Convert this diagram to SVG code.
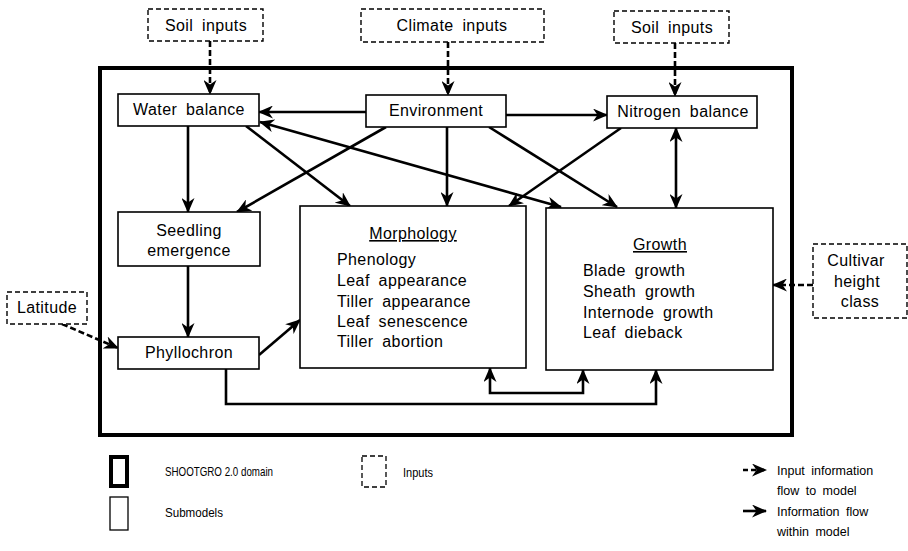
<svg xmlns="http://www.w3.org/2000/svg" width="908" height="551" viewBox="0 0 908 551">
<defs>
<style>
text{font-family:"Liberation Sans",Arial,sans-serif;fill:#000}
.t{font-size:16px;letter-spacing:0.4px;word-spacing:4px}
.c{text-anchor:middle}
.box{fill:#fff;stroke:#000;stroke-width:1.6}
.dbox{fill:#fff;stroke:#000;stroke-width:1.4;stroke-dasharray:5 3}
.ln{fill:none;stroke:#000;stroke-width:2.6}
.dl{fill:none;stroke:#000;stroke-width:2.6;stroke-dasharray:6 3}
.lg{font-size:12.5px;word-spacing:3px}
</style>
<marker id="ah" markerUnits="userSpaceOnUse" markerWidth="15" markerHeight="13" viewBox="0 0 15 13" refX="14" refY="6.5" orient="auto-start-reverse">
<path d="M0,0 L15,6.5 L0,13 L4.5,6.5 z" fill="#000"/>
</marker>
</defs>
<rect width="908" height="551" fill="#fff"/>

<g id="domain"><rect x="100" y="68" width="692" height="367" fill="none" stroke="#000" stroke-width="4"/></g>

<g id="connectors">
<line class="dl" x1="210" y1="41" x2="210" y2="94" marker-end="url(#ah)"/>
<line class="dl" x1="448" y1="42" x2="448" y2="95" marker-end="url(#ah)"/>
<line class="dl" x1="675" y1="43" x2="675" y2="96" marker-end="url(#ah)"/>
<line class="ln" x1="366" y1="112" x2="259" y2="112" marker-end="url(#ah)"/>
<line class="ln" x1="506" y1="115" x2="607" y2="115" marker-end="url(#ah)"/>
<line class="ln" x1="188" y1="126" x2="188" y2="212" marker-end="url(#ah)"/>
<line class="ln" x1="386" y1="127" x2="237" y2="212" marker-end="url(#ah)"/>
<line class="ln" x1="246" y1="126" x2="350" y2="206" marker-end="url(#ah)"/>
<line class="ln" x1="447" y1="127" x2="447" y2="206" marker-end="url(#ah)"/>
<line class="ln" x1="489" y1="127" x2="617" y2="207" marker-end="url(#ah)"/>
<line class="ln" x1="621" y1="128" x2="509" y2="206" marker-end="url(#ah)"/>
<line class="ln" x1="676" y1="128" x2="676" y2="208" marker-start="url(#ah)" marker-end="url(#ah)"/>
<line class="ln" x1="260" y1="122" x2="561" y2="207" marker-start="url(#ah)" marker-end="url(#ah)"/>
<line class="ln" x1="188" y1="266" x2="188" y2="337" marker-end="url(#ah)"/>
<line class="ln" x1="259" y1="355" x2="300" y2="320" marker-end="url(#ah)"/>
<line class="dl" x1="62" y1="324" x2="118" y2="348" marker-end="url(#ah)"/>
<line class="dl" x1="813" y1="285" x2="773" y2="285" marker-end="url(#ah)"/>
<polyline class="ln" points="226,369 226,404 656,404 656,370" marker-end="url(#ah)"/>
<polyline class="ln" points="490,368 490,393 583,393 583,370" marker-start="url(#ah)" marker-end="url(#ah)"/>
</g>

<g id="soil-inputs-left"><rect class="dbox" x="148" y="9" width="115" height="32"/><text class="t c" x="206" y="31">Soil inputs</text></g>
<g id="climate-inputs"><rect class="dbox" x="361" y="9" width="183" height="33"/><text class="t c" x="452" y="31">Climate inputs</text></g>
<g id="soil-inputs-right"><rect class="dbox" x="614" y="11" width="115" height="32"/><text class="t c" x="672" y="33">Soil inputs</text></g>

<g id="water-balance"><rect class="box" x="118" y="94" width="141" height="32"/><text class="t c" x="189" y="115">Water balance</text></g>
<g id="environment"><rect class="box" x="366" y="95" width="140" height="32"/><text class="t c" x="436" y="116">Environment</text></g>
<g id="nitrogen-balance"><rect class="box" x="607" y="96" width="150" height="32"/><text class="t c" x="683" y="117">Nitrogen balance</text></g>

<g id="seedling-emergence"><rect class="box" x="118" y="212" width="142" height="54"/><text class="t c" x="189" y="236">Seedling</text><text class="t c" x="189" y="256">emergence</text></g>
<g id="phyllochron"><rect class="box" x="118" y="337" width="141" height="32"/><text class="t c" x="189" y="358">Phyllochron</text></g>

<g id="morphology"><rect class="box" x="300" y="206" width="226" height="162"/>
<text class="t c" x="413" y="239" text-decoration="underline">Morphology</text>
<text class="t" x="337" y="265">Phenology</text>
<text class="t" x="337" y="286">Leaf appearance</text>
<text class="t" x="337" y="307">Tiller appearance</text>
<text class="t" x="337" y="327">Leaf senescence</text>
<text class="t" x="337" y="347">Tiller  abortion</text>
</g>

<g id="growth"><rect class="box" x="546" y="208" width="227" height="162"/>
<text class="t c" x="660" y="250" text-decoration="underline">Growth</text>
<text class="t" x="583" y="276">Blade growth</text>
<text class="t" x="583" y="297">Sheath growth</text>
<text class="t" x="583" y="318">Internode growth</text>
<text class="t" x="583" y="338">Leaf dieback</text>
</g>

<g id="latitude"><rect class="dbox" x="7" y="292" width="80" height="32"/><text class="t c" x="47" y="313">Latitude</text></g>
<g id="cultivar"><rect class="dbox" x="813" y="244" width="94" height="74"/><text class="t c" x="856" y="266">Cultivar</text><text class="t c" x="857" y="287">height</text><text class="t c" x="860" y="307">class</text></g>

<g id="legend">
<rect x="111" y="457" width="16" height="29" fill="none" stroke="#000" stroke-width="4"/>
<text x="165" y="476" font-size="13" textLength="108" lengthAdjust="spacingAndGlyphs">SHOOTGRO 2.0 domain</text>
<rect x="362" y="456" width="24" height="31" fill="none" stroke="#000" stroke-width="1.3" stroke-dasharray="5 3"/>
<text x="403" y="477" font-size="13" textLength="30" lengthAdjust="spacingAndGlyphs">Inputs</text>
<line x1="743" y1="470" x2="766" y2="470" stroke="#000" stroke-width="2.6" stroke-dasharray="5 3" marker-end="url(#ah)"/>
<text class="lg" x="777" y="475">Input information</text>
<text class="lg" x="777" y="495">flow to model</text>
<rect x="110" y="497" width="18" height="33" fill="none" stroke="#000" stroke-width="1.3"/>
<text x="165" y="517" font-size="13" textLength="58" lengthAdjust="spacingAndGlyphs">Submodels</text>
<line x1="743" y1="511" x2="766" y2="511" stroke="#000" stroke-width="2.6" marker-end="url(#ah)"/>
<text class="lg" x="777" y="516">Information flow</text>
<text class="lg" x="777" y="536">within model</text>
</g>
</svg>
